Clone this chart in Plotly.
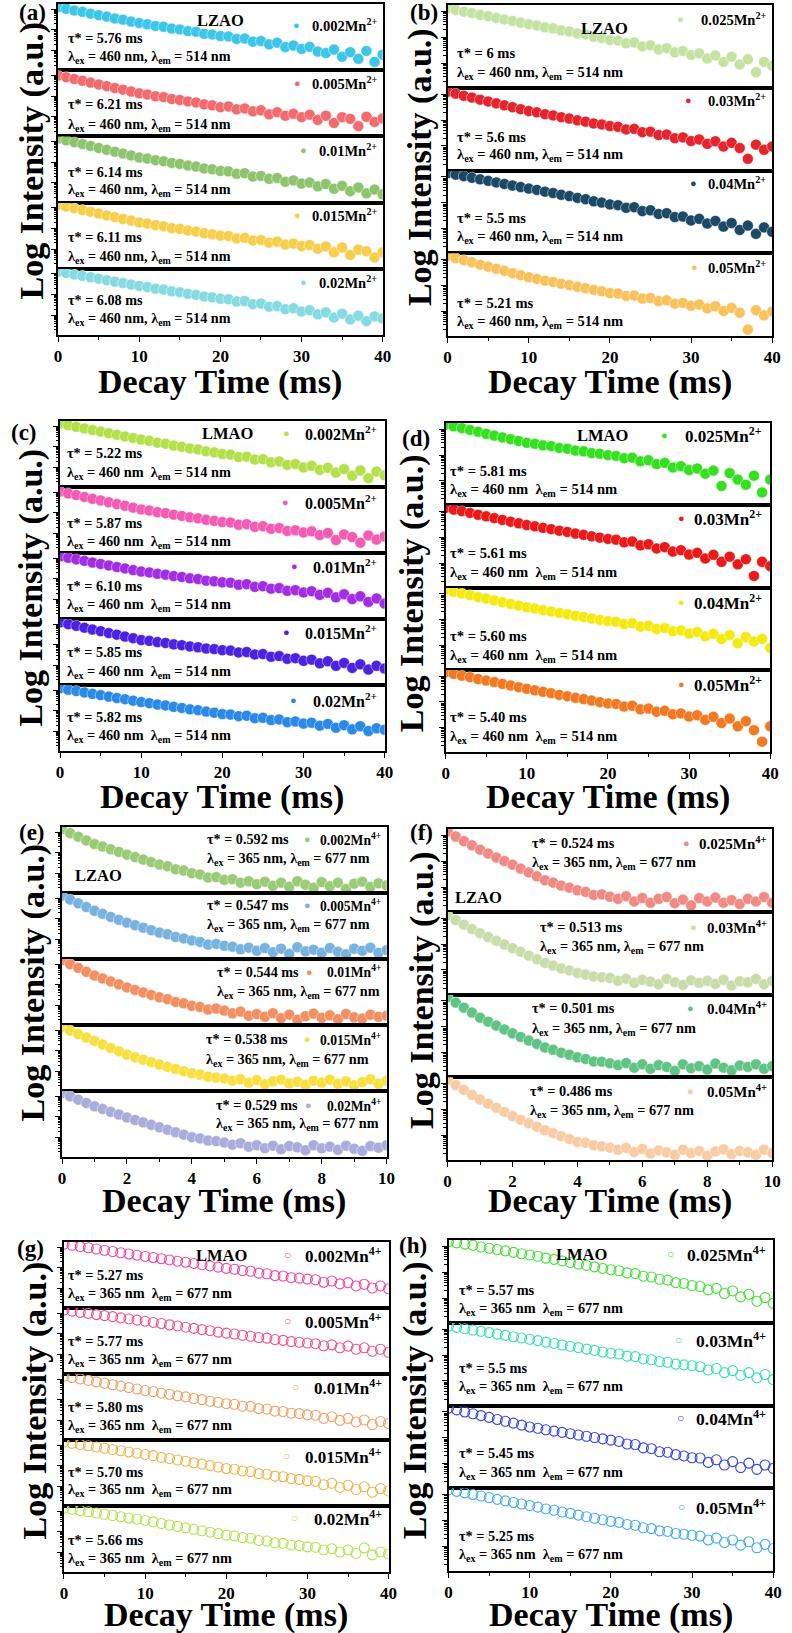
import math
import plotly.graph_objects as go

W, H = 792, 1633
SERIF = "Liberation Serif, Times New Roman, serif"

# ---------------------------------------------------------------- time grids (ms)
t_long = list(range(0, 41))            # 0-40 ms, 1 ms step
t_short = [i / 4 for i in range(41)]   # 0-10 ms, 0.25 ms step

# ---------------------------------------------------------------- log10 intensity
# (a) LZAO : Mn2+
a_002 = [4.10, 4.02, 3.94, 3.87, 3.78, 3.71, 3.64, 3.55, 3.49, 3.40, 3.33,
         3.27, 3.19, 3.15, 3.06, 3.02, 2.94, 2.91, 2.81, 2.78, 2.70,
         2.68, 2.56, 2.58, 2.43, 2.46, 2.30, 2.38, 2.17, 2.24, 2.08,
         2.18, 1.95, 1.88, 2.05, 1.70, 1.92, 1.60, 1.98, 1.45, 1.80]
a_005 = [3.99, 3.91, 3.82, 3.74, 3.65, 3.56, 3.48, 3.39, 3.31, 3.22, 3.13,
         3.08, 2.99, 2.95, 2.86, 2.81, 2.74, 2.69, 2.60, 2.55, 2.46,
         2.50, 2.36, 2.40, 2.26, 2.31, 2.12, 2.22, 2.05, 2.14, 1.98,
         2.10, 1.85, 2.05, 1.70, 1.98, 1.90, 1.55, 2.00, 1.75, 1.92]
a_01 = [4.15, 4.06, 3.97, 3.88, 3.79, 3.69, 3.60, 3.51, 3.42, 3.33, 3.23,
        3.18, 3.10, 3.05, 2.97, 2.92, 2.84, 2.79, 2.70, 2.66, 2.58,
        2.56, 2.44, 2.47, 2.31, 2.34, 2.20, 2.24, 2.06, 2.12, 1.97,
        2.02, 1.84, 1.95, 1.72, 1.86, 1.60, 1.78, 1.50, 1.68, 1.45]
a_015 = [4.15, 4.06, 3.98, 3.89, 3.81, 3.72, 3.63, 3.55, 3.46, 3.38, 3.29,
         3.24, 3.16, 3.11, 3.02, 2.98, 2.90, 2.85, 2.77, 2.72, 2.65,
         2.63, 2.52, 2.55, 2.42, 2.44, 2.31, 2.36, 2.22, 2.27, 2.15,
         2.20, 2.02, 2.13, 1.85, 2.08, 1.72, 1.98, 1.90, 1.60, 1.85]
a_02 = [4.12, 4.05, 3.98, 3.91, 3.84, 3.77, 3.70, 3.63, 3.56, 3.49, 3.42,
        3.37, 3.29, 3.25, 3.16, 3.12, 3.04, 2.99, 2.91, 2.87, 2.80,
        2.78, 2.67, 2.69, 2.54, 2.57, 2.42, 2.45, 2.30, 2.34, 2.18,
        2.25, 2.05, 2.15, 1.90, 2.08, 1.80, 1.98, 1.72, 1.95, 1.85]

# (b) LZAO : Mn2+
b_025 = [4.12, 4.06, 3.99, 3.94, 3.87, 3.82, 3.75, 3.69, 3.63, 3.57, 3.51,
         3.46, 3.39, 3.35, 3.27, 3.23, 3.15, 3.11, 3.02, 2.98, 2.90,
         2.88, 2.77, 2.80, 2.65, 2.69, 2.53, 2.58, 2.42, 2.47, 2.32,
         2.38, 2.18, 2.30, 2.05, 2.25, 1.95, 2.15, 1.65, 2.05, 1.90]
b_03 = [4.09, 4.02, 3.94, 3.87, 3.79, 3.72, 3.65, 3.57, 3.50, 3.42, 3.35,
        3.30, 3.23, 3.18, 3.11, 3.06, 2.99, 2.94, 2.87, 2.83, 2.77,
        2.74, 2.64, 2.66, 2.53, 2.55, 2.42, 2.44, 2.30, 2.33, 2.19,
        2.25, 2.08, 2.18, 1.98, 2.12, 1.92, 1.50, 2.05, 1.85, 1.98]
b_04 = [4.15, 4.09, 4.03, 3.97, 3.91, 3.85, 3.79, 3.73, 3.67, 3.61, 3.55,
        3.50, 3.43, 3.38, 3.31, 3.26, 3.19, 3.14, 3.06, 3.01, 2.94,
        2.91, 2.81, 2.83, 2.68, 2.71, 2.57, 2.60, 2.45, 2.47, 2.32,
        2.38, 2.20, 2.30, 2.08, 2.22, 1.95, 2.12, 1.80, 2.05, 1.88]
b_05 = [4.15, 4.06, 3.98, 3.90, 3.81, 3.73, 3.65, 3.57, 3.48, 3.40, 3.32,
        3.26, 3.19, 3.14, 3.07, 3.02, 2.95, 2.90, 2.83, 2.78, 2.71,
        2.69, 2.60, 2.62, 2.50, 2.52, 2.40, 2.43, 2.30, 2.33, 2.22,
        2.27, 2.12, 2.20, 2.02, 2.14, 1.95, 1.30, 2.05, 1.85, 2.00]

# (c) LMAO : Mn2+
c_002 = [4.12, 4.04, 3.97, 3.89, 3.81, 3.74, 3.66, 3.58, 3.50, 3.43, 3.35,
         3.29, 3.20, 3.15, 3.06, 3.00, 2.92, 2.87, 2.78, 2.73, 2.65,
         2.62, 2.50, 2.52, 2.38, 2.40, 2.25, 2.29, 2.12, 2.16, 2.00,
         2.08, 1.88, 1.98, 1.75, 1.92, 1.60, 1.85, 1.48, 1.80, 1.62]
c_005 = [4.03, 3.94, 3.86, 3.77, 3.68, 3.60, 3.51, 3.42, 3.34, 3.25, 3.16,
         3.11, 3.03, 2.98, 2.91, 2.85, 2.78, 2.73, 2.66, 2.61, 2.55,
         2.53, 2.42, 2.45, 2.32, 2.35, 2.22, 2.26, 2.12, 2.15, 2.05,
         2.10, 1.92, 2.02, 1.68, 1.95, 1.82, 1.55, 1.90, 1.70, 1.85]
c_01 = [4.09, 4.02, 3.94, 3.87, 3.79, 3.72, 3.65, 3.57, 3.50, 3.42, 3.35,
        3.31, 3.24, 3.20, 3.13, 3.09, 3.02, 2.99, 2.91, 2.88, 2.83,
        2.81, 2.71, 2.74, 2.61, 2.64, 2.52, 2.55, 2.42, 2.45, 2.34,
        2.40, 2.22, 2.32, 2.10, 2.25, 2.02, 2.15, 1.88, 2.05, 1.80]
c_015 = [4.09, 4.00, 3.92, 3.83, 3.74, 3.66, 3.57, 3.49, 3.40, 3.32, 3.23,
         3.19, 3.13, 3.09, 3.02, 2.98, 2.92, 2.88, 2.82, 2.79, 2.74,
         2.72, 2.63, 2.65, 2.53, 2.55, 2.42, 2.45, 2.32, 2.35, 2.22,
         2.28, 2.10, 2.20, 1.98, 2.12, 1.88, 2.05, 1.80, 1.98, 1.85]
c_02 = [4.09, 4.02, 3.96, 3.89, 3.82, 3.76, 3.69, 3.62, 3.56, 3.49, 3.42,
        3.37, 3.30, 3.26, 3.19, 3.14, 3.07, 3.03, 2.96, 2.91, 2.84,
        2.82, 2.74, 2.76, 2.64, 2.66, 2.55, 2.58, 2.45, 2.48, 2.38,
        2.42, 2.28, 2.36, 2.18, 2.30, 2.10, 2.25, 2.02, 2.15, 2.08]

# (d) LMAO : Mn2+
d_025 = [4.19, 4.12, 4.05, 3.98, 3.91, 3.83, 3.76, 3.69, 3.62, 3.55, 3.48,
         3.44, 3.38, 3.35, 3.28, 3.25, 3.18, 3.15, 3.08, 3.05, 3.00,
         2.97, 2.88, 2.90, 2.76, 2.80, 2.65, 2.70, 2.52, 2.57, 2.42,
         2.48, 2.28, 2.40, 1.80, 2.30, 2.05, 1.85, 2.20, 1.55, 2.05]
d_03 = [4.15, 4.08, 4.02, 3.95, 3.88, 3.82, 3.75, 3.68, 3.61, 3.55, 3.48,
        3.43, 3.37, 3.32, 3.26, 3.21, 3.15, 3.10, 3.04, 2.99, 2.94,
        2.91, 2.81, 2.84, 2.69, 2.73, 2.57, 2.62, 2.45, 2.50, 2.33,
        2.40, 2.18, 2.32, 2.05, 2.25, 1.95, 2.15, 1.50, 2.05, 1.88]
d_04 = [4.15, 4.08, 4.02, 3.95, 3.88, 3.82, 3.75, 3.68, 3.61, 3.55, 3.48,
        3.43, 3.37, 3.32, 3.26, 3.21, 3.15, 3.10, 3.04, 2.99, 2.94,
        2.92, 2.83, 2.86, 2.73, 2.76, 2.64, 2.67, 2.55, 2.58, 2.46,
        2.52, 2.35, 2.45, 2.25, 2.40, 2.08, 2.32, 2.15, 2.25, 1.90]
d_05 = [4.15, 4.09, 4.02, 3.96, 3.89, 3.83, 3.77, 3.70, 3.64, 3.57, 3.51,
        3.45, 3.39, 3.34, 3.27, 3.22, 3.16, 3.11, 3.05, 2.99, 2.94,
        2.92, 2.82, 2.85, 2.71, 2.74, 2.62, 2.65, 2.52, 2.55, 2.43,
        2.48, 2.30, 2.42, 2.18, 2.35, 2.05, 2.25, 1.90, 1.45, 2.05]

# (e) LZAO : Mn4+
e_002 = [4.15, 3.95, 3.78, 3.60, 3.42,
         3.30, 3.17, 3.04, 2.91, 2.79, 2.67, 2.55, 2.43,
         2.35, 2.20, 2.14, 2.01, 1.95, 1.80, 1.82, 1.69,
         1.72, 1.55, 1.62, 1.48, 1.60, 1.40, 1.55, 1.35,
         1.62, 1.45, 1.30, 1.58, 1.38, 1.55, 1.25, 1.50,
         1.60, 1.35, 1.52, 1.42]
e_005 = [4.12, 3.93, 3.75, 3.57, 3.39,
         3.24, 3.09, 2.95, 2.81, 2.69, 2.57, 2.45, 2.33,
         2.25, 2.12, 2.05, 1.95, 1.88, 1.75, 1.78, 1.69,
         1.65, 1.52, 1.60, 1.45, 1.58, 1.38, 1.55, 1.30,
         1.62, 1.42, 1.50, 1.35, 1.58, 1.40, 1.28, 1.55,
         1.45, 1.60, 1.35, 1.48]
e_01 = [4.19, 4.00, 3.82, 3.63, 3.45,
        3.31, 3.16, 3.02, 2.87, 2.75, 2.63, 2.51, 2.39,
        2.30, 2.17, 2.10, 1.98, 1.92, 1.80, 1.85, 1.75,
        1.62, 1.70, 1.50, 1.58, 1.45, 1.62, 1.38, 1.55,
        1.30, 1.48, 1.60, 1.40, 1.52, 1.33, 1.58, 1.42,
        1.36, 1.55, 1.45, 1.50]
e_015 = [4.15, 3.98, 3.81, 3.65, 3.48,
         3.31, 3.14, 2.98, 2.81, 2.69, 2.57, 2.45, 2.33,
         2.22, 2.12, 2.01, 1.91, 1.85, 1.74, 1.70, 1.66,
         1.55, 1.62, 1.45, 1.58, 1.38, 1.52, 1.60, 1.42,
         1.50, 1.35, 1.55, 1.45, 1.60, 1.40, 1.52, 1.33,
         1.48, 1.62, 1.40, 1.55]
e_02 = [4.15, 3.99, 3.83, 3.67, 3.51,
        3.38, 3.24, 3.11, 2.97, 2.85, 2.73, 2.61, 2.49,
        2.37, 2.25, 2.13, 2.01, 1.95, 1.85, 1.82, 1.75,
        1.65, 1.72, 1.55, 1.62, 1.48, 1.60, 1.42, 1.58,
        1.52, 1.38, 1.62, 1.47, 1.55, 1.40, 1.60, 1.45,
        1.35, 1.58, 1.50, 1.62]

# (f) LZAO : Mn4+
f_025 = [4.15, 3.96, 3.78, 3.62, 3.45,
         3.30, 3.15, 3.01, 2.87, 2.72, 2.57, 2.42, 2.27,
         2.18, 2.06, 1.98, 1.88, 1.82, 1.70, 1.72, 1.63,
         1.55, 1.65, 1.45, 1.58, 1.40, 1.55, 1.62, 1.38,
         1.52, 1.30, 1.58, 1.45, 1.60, 1.40, 1.50, 1.35,
         1.55, 1.45, 1.62, 1.40]
f_03 = [4.12, 3.93, 3.75, 3.58, 3.42,
        3.27, 3.13, 2.98, 2.84, 2.70, 2.55, 2.41, 2.27,
        2.17, 2.06, 1.98, 1.88, 1.82, 1.75, 1.72, 1.69,
        1.58, 1.66, 1.50, 1.62, 1.55, 1.45, 1.65, 1.52,
        1.42, 1.60, 1.50, 1.58, 1.46, 1.62, 1.40, 1.56,
        1.52, 1.65, 1.45, 1.58]
f_04 = [4.15, 3.94, 3.74, 3.55, 3.35,
        3.20, 3.05, 2.90, 2.75, 2.61, 2.47, 2.34, 2.20,
        2.11, 2.00, 1.92, 1.82, 1.76, 1.66, 1.65, 1.59,
        1.52, 1.60, 1.42, 1.55, 1.38, 1.52, 1.45, 1.30,
        1.55, 1.40, 1.48, 1.35, 1.58, 1.42, 1.32, 1.50,
        1.45, 1.55, 1.38, 1.48]
f_05 = [4.15, 3.95, 3.76, 3.57, 3.39,
        3.23, 3.07, 2.91, 2.75, 2.61, 2.47, 2.34, 2.20,
        2.09, 1.97, 1.86, 1.75, 1.72, 1.62, 1.58, 1.53,
        1.45, 1.52, 1.36, 1.48, 1.30, 1.42, 1.35, 1.25,
        1.45, 1.32, 1.40, 1.22, 1.38, 1.46, 1.28, 1.40,
        1.35, 1.25, 1.45, 1.32]

# (g) LMAO : Mn4+
g_002 = [4.15, 4.09, 4.03, 3.97, 3.91, 3.85, 3.79, 3.73, 3.67, 3.61, 3.55,
         3.50, 3.44, 3.38, 3.32, 3.27, 3.21, 3.15, 3.09, 3.03, 2.97,
         2.93, 2.86, 2.83, 2.74, 2.71, 2.62, 2.60, 2.52, 2.50, 2.45,
         2.42, 2.30, 2.36, 2.22, 2.28, 2.12, 2.20, 2.02, 2.12, 1.98]
g_005 = [4.15, 4.10, 4.04, 3.99, 3.93, 3.88, 3.83, 3.77, 3.72, 3.66, 3.61,
         3.55, 3.50, 3.43, 3.38, 3.32, 3.26, 3.20, 3.15, 3.08, 3.03,
         2.99, 2.93, 2.88, 2.82, 2.79, 2.72, 2.68, 2.62, 2.59, 2.55,
         2.52, 2.42, 2.46, 2.32, 2.40, 2.25, 2.32, 2.15, 2.25, 2.10]
g_01 = [4.15, 4.08, 4.01, 3.94, 3.87, 3.80, 3.73, 3.66, 3.59, 3.52, 3.45,
        3.40, 3.32, 3.27, 3.19, 3.14, 3.06, 3.01, 2.93, 2.88, 2.81,
        2.78, 2.69, 2.68, 2.57, 2.55, 2.45, 2.43, 2.35, 2.33, 2.27,
        2.25, 2.10, 2.18, 2.00, 2.10, 1.92, 2.02, 1.80, 1.95, 1.85]
g_015 = [4.15, 4.09, 4.03, 3.97, 3.91, 3.85, 3.79, 3.73, 3.67, 3.61, 3.55,
         3.49, 3.41, 3.35, 3.28, 3.22, 3.14, 3.08, 3.01, 2.94, 2.87,
         2.83, 2.75, 2.72, 2.62, 2.59, 2.50, 2.47, 2.38, 2.34, 2.27,
         2.25, 2.08, 2.15, 1.95, 2.05, 1.85, 1.98, 1.72, 1.90, 1.78]
g_02 = [4.15, 4.09, 4.03, 3.97, 3.91, 3.85, 3.79, 3.73, 3.67, 3.61, 3.55,
        3.48, 3.40, 3.33, 3.26, 3.19, 3.12, 3.05, 2.98, 2.91, 2.84,
        2.80, 2.72, 2.69, 2.58, 2.55, 2.46, 2.44, 2.35, 2.33, 2.27,
        2.25, 2.12, 2.18, 2.02, 2.12, 1.95, 2.22, 1.88, 2.02, 1.92]

# (h) LMAO : Mn4+
h_025 = [4.19, 4.14, 4.09, 4.04, 3.98, 3.93, 3.88, 3.83, 3.77, 3.72, 3.67,
         3.62, 3.55, 3.50, 3.44, 3.38, 3.32, 3.27, 3.21, 3.15, 3.10,
         3.06, 2.98, 2.95, 2.85, 2.82, 2.73, 2.70, 2.60, 2.57, 2.49,
         2.45, 2.32, 2.38, 2.18, 2.28, 2.05, 2.15, 1.88, 2.02, 1.80]
h_03 = [4.12, 4.07, 4.02, 3.97, 3.92, 3.87, 3.81, 3.76, 3.71, 3.66, 3.61,
        3.56, 3.50, 3.45, 3.39, 3.34, 3.29, 3.23, 3.18, 3.12, 3.07,
        3.04, 2.96, 2.94, 2.85, 2.82, 2.75, 2.72, 2.65, 2.62, 2.59,
        2.55, 2.42, 2.48, 2.32, 2.40, 2.22, 2.32, 2.12, 2.25, 2.05]
h_04 = [4.15, 4.08, 4.00, 3.93, 3.86, 3.79, 3.71, 3.64, 3.57, 3.49, 3.42,
        3.37, 3.31, 3.26, 3.21, 3.16, 3.11, 3.06, 3.01, 2.96, 2.91,
        2.86, 2.76, 2.74, 2.61, 2.58, 2.46, 2.44, 2.35, 2.30, 2.23,
        2.22, 2.05, 2.15, 1.95, 2.08, 1.85, 2.02, 1.78, 1.95, 1.82]
h_05 = [4.19, 4.13, 4.07, 4.01, 3.95, 3.89, 3.82, 3.76, 3.70, 3.64, 3.58,
        3.52, 3.45, 3.40, 3.33, 3.28, 3.21, 3.15, 3.09, 3.03, 2.97,
        2.93, 2.85, 2.82, 2.72, 2.69, 2.60, 2.58, 2.50, 2.47, 2.43,
        2.40, 2.25, 2.32, 2.15, 2.25, 2.05, 2.18, 1.95, 2.08, 1.92]

# ---------------------------------------------------------------- labels
conc_low = ["0.002", "0.005", "0.01", "0.015", "0.02"]
conc_high = ["0.025", "0.03", "0.04", "0.05"]
tau_a = ["5.76", "6.21", "6.14", "6.11", "6.08"]
tau_b = ["6", "5.6", "5.5", "5.21"]
tau_c = ["5.22", "5.87", "6.10", "5.85", "5.82"]
tau_d = ["5.81", "5.61", "5.60", "5.40"]
tau_e = ["0.592", "0.547", "0.544", "0.538", "0.529"]
tau_f = ["0.524", "0.513", "0.501", "0.486"]
tau_g = ["5.27", "5.77", "5.80", "5.70", "5.66"]
tau_h = ["5.57", "5.5", "5.45", "5.25"]
x_ticks_long = [0, 10, 20, 30, 40]
x_ticks_short = [0, 2, 4, 6, 8, 10]

LAM_MN2_COMMA = "λ<sub>ex</sub> = 460 nm, λ<sub>em</sub> = 514 nm"
LAM_MN2_SPACE = "λ<sub>ex</sub> = 460 nm \u00a0λ<sub>em</sub> = 514 nm"
LAM_MN4_COMMA = "λ<sub>ex</sub> = 365 nm, λ<sub>em</sub> = 677 nm"
LAM_MN4_SPACE = "λ<sub>ex</sub> = 365 nm \u00a0λ<sub>em</sub> = 677 nm"

# ---------------------------------------------------------------- panel layout (pixels)
panels = [
    dict(tag="(a)", tag_xy=(29, 13), ytitle_xy=(28, 161), xtitle_y=382,
         x0=55, x1=385, y0=4, y1=335, t=t_long, ticks=x_ticks_long, minor=5,
         series=[a_002, a_005, a_01, a_015, a_02], conc=conc_low, ion="2+", tau=tau_a,
         colors=["#3ec6e8", "#f26b6f", "#8fc46e", "#f6cf4c", "#86dbe3"], hollow=False,
         lam=LAM_MN2_COMMA, host="LZAO", host_xy=(220, 17), host_anchor="center",
         tau_x=[63] * 5, tau_dy=[34, 34, 36, 34, 31], lam_dy=[53, 55, 54, 54, 50],
         leg_x=[297, 298, 305, 298, 305], leg_dy=[21, 13, 14, 12, 13], leg_right=381,
         fs=14.2, leg_fs=14.5),
    dict(tag="(b)", tag_xy=(427, 13), ytitle_xy=(423, 167), xtitle_y=382,
         x0=451, x1=781, y0=5, y1=336, t=t_long, ticks=x_ticks_long, minor=5,
         series=[b_025, b_03, b_04, b_05], conc=conc_high, ion="2+", tau=tau_b,
         colors=["#c4e3a2", "#e3252d", "#1c4a66", "#f8c25c"], hollow=False,
         lam=LAM_MN2_COMMA, host="LZAO", host_xy=(611, 23), host_anchor="center",
         tau_x=[459] * 4, tau_dy=[48, 49, 47, 50], lam_dy=[68, 67, 67, 69],
         leg_x=[688, 696, 701, 702], leg_dy=[14, 12, 12, 14], leg_right=777,
         fs=14.5, leg_fs=14.5),
    dict(tag="(c)", tag_xy=(20, 432), ytitle_xy=(27, 588), xtitle_y=797,
         x0=57, x1=387, y0=421, y1=751, t=t_long, ticks=x_ticks_long, minor=5,
         series=[c_002, c_005, c_01, c_015, c_02], conc=conc_low, ion="2+", tau=tau_c,
         colors=["#b4e04c", "#f25cb2", "#a22ee4", "#4b22e0", "#2a8ae6"], hollow=False,
         lam=LAM_MN2_SPACE, host="LMAO", host_xy=(227, 12), host_anchor="center",
         tau_x=[62] * 5, tau_dy=[32, 36, 33, 33, 32], lam_dy=[52, 55, 52, 53, 51],
         leg_x=[287, 286, 295, 287, 294], leg_dy=[12, 15, 13, 13, 15], leg_right=381,
         fs=14.3, leg_fs=16),
    dict(tag="(d)", tag_xy=(419, 438), ytitle_xy=(415, 593), xtitle_y=797,
         x0=449, x1=779, y0=423, y1=752, t=t_long, ticks=x_ticks_long, minor=5,
         series=[d_025, d_03, d_04, d_05], conc=conc_high, ion="2+", tau=tau_d,
         colors=["#35e021", "#e91a1a", "#f4ea12", "#f27a22"], hollow=False,
         lam=LAM_MN2_SPACE, host="LMAO", host_xy=(608, 12), host_anchor="center",
         tau_x=[451] * 4, tau_dy=[48, 48, 48, 47], lam_dy=[67, 68, 68, 67],
         leg_x=[672, 689, 689, 689], leg_dy=[12, 13, 15, 14], leg_right=773,
         fs=14.6, leg_fs=17),
    dict(tag="(e)", tag_xy=(28, 833), ytitle_xy=(29, 983), xtitle_y=1201,
         x0=59, x1=389, y0=827, y1=1157, t=t_short, ticks=x_ticks_short, minor=1,
         series=[e_002, e_005, e_01, e_015, e_02], conc=conc_low, ion="4+", tau=tau_e,
         colors=["#9acb76", "#78b2de", "#f19062", "#f8e042", "#a9addb"], hollow=False,
         lam=LAM_MN4_COMMA, host="LZAO", host_xy=(70, 48), host_anchor="left",
         tau_x=[204, 204, 215, 203, 213], tau_dy=[12, 12, 13, 14, 14], lam_dy=[32, 32, 33, 35, 33],
         leg_x=[309, 309, 311, 309, 310], leg_dy=[12, 12, 13, 14, 14], leg_right=385,
         fs=14.2, leg_fs=13.6),
    dict(tag="(f)", tag_xy=(424, 833), ytitle_xy=(425, 990), xtitle_y=1201,
         x0=451, x1=781, y0=829, y1=1160, t=t_short, ticks=x_ticks_short, minor=1,
         series=[f_025, f_03, f_04, f_05], conc=conc_high, ion="4+", tau=tau_f,
         colors=["#f08a84", "#c9ddaa", "#62c484", "#f9cca4"], hollow=False,
         lam=LAM_MN4_COMMA, host="LZAO", host_xy=(456, 69), host_anchor="left",
         tau_x=[535, 543, 535, 533], tau_dy=[14, 15, 14, 14], lam_dy=[34, 35, 34, 34],
         leg_x=[694, 701, 698, 698], leg_dy=[14, 15, 14, 14], leg_right=778,
         fs=14.3, leg_fs=15),
    dict(tag="(g)", tag_xy=(27, 1248), ytitle_xy=(32, 1400), xtitle_y=1615,
         x0=61, x1=391, y0=1242, y1=1572, t=t_long, ticks=x_ticks_long, minor=5,
         series=[g_002, g_005, g_01, g_015, g_02], conc=conc_low, ion="4+", tau=tau_g,
         colors=["#f046a6", "#f0508e", "#f2a062", "#f0b448", "#b2e44a"], hollow=True,
         lam=LAM_MN4_SPACE, host="LMAO", host_xy=(221, 13), host_anchor="center",
         tau_x=[63] * 5, tau_dy=[33, 33, 33, 32, 34], lam_dy=[52, 52, 52, 50, 53],
         leg_x=[288, 288, 296, 287, 295], leg_dy=[13, 13, 13, 16, 12], leg_right=386,
         fs=14.3, leg_fs=17),
    dict(tag="(h)", tag_xy=(416, 1245), ytitle_xy=(418, 1400), xtitle_y=1615,
         x0=452, x1=782, y0=1240, y1=1571, t=t_long, ticks=x_ticks_long, minor=5,
         series=[h_025, h_03, h_04, h_05], conc=conc_high, ion="4+", tau=tau_h,
         colors=["#44e034", "#34e0b2", "#3444e2", "#44aaf2"], hollow=True,
         lam=LAM_MN4_SPACE, host="LMAO", host_xy=(587, 14), host_anchor="center",
         tau_x=[461] * 4, tau_dy=[50, 45, 47, 48], lam_dy=[69, 64, 67, 67],
         leg_x=[678, 686, 688, 689], leg_dy=[14, 17, 12, 19], leg_right=777,
         fs=14.3, leg_fs=17.5),
]

# log-intensity axis: decades and their 2..9 subdivisions
Y_RANGE = [1.05, 4.25]
y_major = [2, 3, 4]
y_minor = [round(n + math.log10(k), 4) for n in (1, 2, 3, 4) for k in range(2, 10)
           if Y_RANGE[0] < n + math.log10(k) < Y_RANGE[1]]


def px(x):
    return x / W


def py(y):
    return 1 - y / H


annotations = []


def note(text, x, y, size, color="black", xanchor="left", angle=0):
    annotations.append(dict(
        text=text, x=px(x), y=py(y), xref="paper", yref="paper",
        xanchor=xanchor, yanchor="middle", showarrow=False, textangle=angle,
        font=dict(family=SERIF, size=size, color=color, weight="bold")))


fig = go.Figure()
layout = {}
idx = 0
for p in panels:
    n = len(p["series"])
    sub_h = (p["y1"] - p["y0"]) / n
    for k in range(n):
        idx += 1
        sfx = "" if idx == 1 else str(idx)
        top = p["y0"] + k * sub_h
        bot = top + sub_h
        color = p["colors"][k]
        if p["hollow"]:
            marker = dict(symbol="circle-open", size=10, color=color, line=dict(width=1.1, color=color))
        else:
            marker = dict(symbol="circle", size=11, color=color,
                          line=dict(width=0.6, color="rgba(255,255,255,0.75)"))
        fig.add_trace(go.Scatter(x=p["t"], y=p["series"][k], mode="markers", marker=marker,
                                 xaxis="x" + sfx, yaxis="y" + sfx,
                                 showlegend=False, hoverinfo="skip"))

        xa = dict(domain=[px(p["x0"]), px(p["x1"])], anchor="y" + sfx,
                  range=[0, p["ticks"][-1]], showline=True, mirror=True,
                  linecolor="black", linewidth=1.6, showgrid=False, zeroline=False)
        if k == n - 1:
            xa.update(ticks="outside", ticklen=5, tickwidth=1.3, tickcolor="black",
                      tickvals=p["ticks"], showticklabels=True,
                      tickfont=dict(family=SERIF, size=17, color="black", weight="bold"),
                      minor=dict(dtick=p["minor"], tick0=0, ticks="outside", ticklen=3,
                                 tickwidth=1.1, tickcolor="black"))
        else:
            xa.update(ticks="", showticklabels=False)
        ya = dict(domain=[py(bot), py(top)], anchor="x" + sfx, range=Y_RANGE,
                  showline=True, mirror=True, linecolor="black", linewidth=1.6,
                  showgrid=False, zeroline=False, ticks="outside", ticklen=5,
                  tickwidth=1.2, tickcolor="black", tickvals=y_major, showticklabels=False,
                  minor=dict(tickvals=y_minor, ticks="outside", ticklen=2.5,
                             tickwidth=1, tickcolor="black"))
        layout["xaxis" + sfx] = xa
        layout["yaxis" + sfx] = ya

        # per-curve text: lifetime, wavelengths, legend entry
        note(f"τ* = {p['tau'][k]} ms", p["tau_x"][k], top + p["tau_dy"][k], p["fs"])
        note(p["lam"], p["tau_x"][k], top + p["lam_dy"][k], p["fs"])
        glyph = "○" if p["hollow"] else "●"
        note(glyph, p["leg_x"][k], top + p["leg_dy"][k], 11 if not p["hollow"] else 12,
             color=color, xanchor="center")
        note(f"{p['conc'][k]}Mn<sup>{p['ion']}</sup>", p["leg_right"],
             top + p["leg_dy"][k], p["leg_fs"], xanchor="right")

    hx, hy = p["host_xy"]
    note(p["host"], hx, p["y0"] + hy, 16.5, xanchor=p["host_anchor"])
    note(p["tag"], p["tag_xy"][0], p["tag_xy"][1], 23, xanchor="center")
    note("Log Intensity (a.u.)", p["ytitle_xy"][0], p["ytitle_xy"][1], 34,
         xanchor="center", angle=-90)
    note("Decay Time (ms)", (p["x0"] + p["x1"]) / 2, p["xtitle_y"], 34, xanchor="center")

fig.update_layout(
    width=W, height=H, margin=dict(l=0, r=0, t=0, b=0),
    paper_bgcolor="white", plot_bgcolor="white",
    showlegend=False, annotations=annotations, **layout)

fig.write_html("out.html")
